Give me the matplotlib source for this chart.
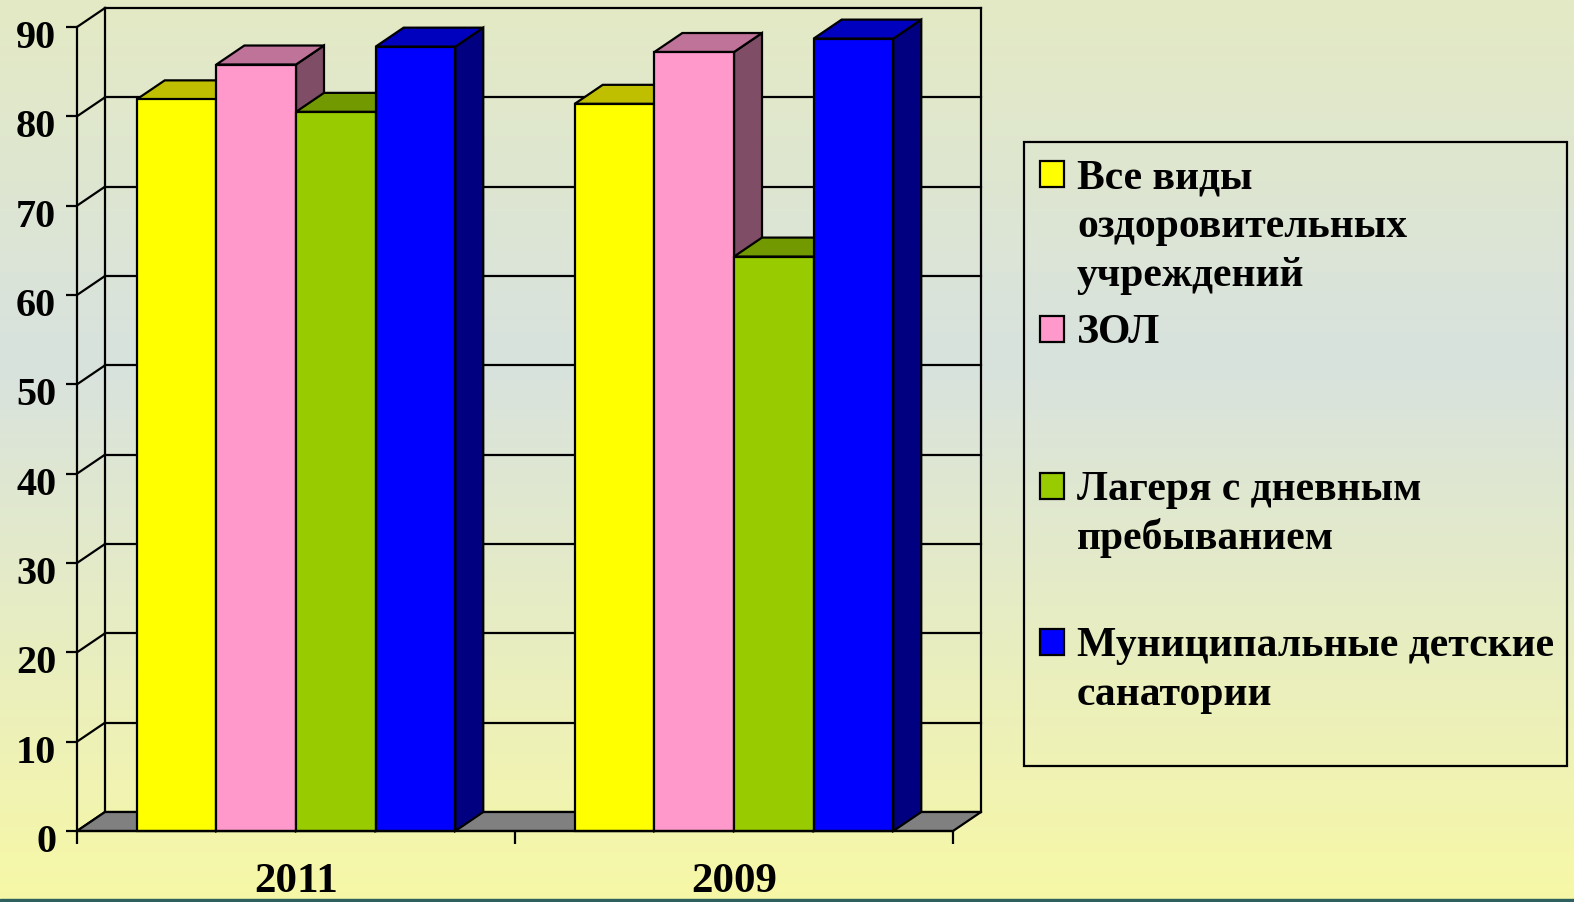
import numpy as np
import matplotlib.pyplot as plt
from matplotlib.patches import Polygon, Rectangle
from matplotlib.colors import to_rgb
from matplotlib.transforms import ScaledTranslation

plt.rcParams['font.family'] = ['Liberation Serif', 'DejaVu Serif']
plt.rcParams['font.weight'] = 'bold'

# data
years = ["2011", "2009"]
labels = ["Все виды\nоздоровительных\nучреждений", "ЗОЛ",
          "Лагеря с дневным\nпребыванием", "Муниципальные детские\nсанатории"]
colors = ["#FFFF00", "#FF99CC", "#99CC00", "#0000FF"]
vals_2011 = [81.9, 85.8, 80.5, 87.8]
vals_2009 = [81.4, 87.2, 64.3, 88.7]
yticks = list(range(0, 100, 10))

W, H = 1574, 902
fig = plt.figure(figsize=(W / 100, H / 100), dpi=100)

# background gradient
bg = fig.add_axes([0, 0, 1, 1])
t = np.linspace(0, 1, 400)
stops = [0.0, 0.4, 1.0]
cols = np.array([[228, 234, 196], [216, 226, 222], [247, 248, 166]]) / 255
grad = np.stack([np.interp(t, stops, cols[:, k]) for k in range(3)], axis=1)
bg.imshow(grad[:, None, :], aspect='auto', extent=[0, 1, 0, 1])
bg.axis('off')
fig.patches.append(Rectangle((0, 0), 1, 3 / H, transform=fig.transFigure,
                             color="#2E6060", zorder=5))

ax = fig.add_axes([77 / W, 1 - 831 / H, 876 / W, 804 / H])
ax.set_facecolor('none')
ax.set_xlim(0, 2)
ax.set_ylim(0, 90)

# depth of the 3d box, in data units
ddx = 28 / 438
ddy = 19 / (804 / 90)
lw = 1.6

# back wall + left wall gridlines
for v in yticks:
    ax.plot([ddx, 2 + ddx], [v + ddy, v + ddy], color='black', lw=lw, clip_on=False, zorder=1)
    ax.plot([0, ddx], [v, v + ddy], color='black', lw=lw, clip_on=False, zorder=1)
ax.plot([ddx, ddx], [ddy, 90 + ddy], color='black', lw=lw, clip_on=False, zorder=1)
ax.plot([2 + ddx, 2 + ddx], [ddy, 90 + ddy], color='black', lw=lw, clip_on=False, zorder=1)

# floor
ax.add_patch(Polygon([(0, 0), (2, 0), (2 + ddx, ddy), (ddx, ddy)], closed=True,
                     facecolor='#808080', edgecolor='black', lw=lw, clip_on=False, zorder=2))

w = 1 / 5.5
z = 3
for g, vals in enumerate([vals_2011, vals_2009]):
    for i, v in enumerate(vals):
        c = np.array(to_rgb(colors[i]))
        x0 = g + 0.75 * w + i * w
        side = [(x0 + w, 0), (x0 + w + ddx, ddy), (x0 + w + ddx, v + ddy), (x0 + w, v)]
        top = [(x0, v), (x0 + w, v), (x0 + w + ddx, v + ddy), (x0 + ddx, v + ddy)]
        ax.add_patch(Polygon(side, closed=True, facecolor=c * 0.5, edgecolor='black',
                             lw=lw, clip_on=False, zorder=z))
        ax.add_patch(Polygon(top, closed=True, facecolor=c * 0.75, edgecolor='black',
                             lw=lw, clip_on=False, zorder=z + 1))
        ax.add_patch(Rectangle((x0, 0), w, v, facecolor=c, edgecolor='black',
                               lw=lw, clip_on=False, zorder=z + 2))
        z += 3

for s in ['top', 'right']:
    ax.spines[s].set_visible(False)
for s in ['left', 'bottom']:
    ax.spines[s].set_linewidth(lw)
    ax.spines[s].set_zorder(z + 1)

ax.set_yticks(yticks)
ax.tick_params(axis='y', direction='out', length=8, width=lw, labelsize=29, pad=7)
for lab in ax.get_yticklabels():
    lab.set_transform(lab.get_transform() + ScaledTranslation(0, -0.07, fig.dpi_scale_trans))

ax.set_xticks([0, 1, 2])
ax.set_xticklabels([])
ax.set_xticks([0.5, 1.5], minor=True)
ax.set_xticklabels(years, minor=True)
ax.tick_params(axis='x', which='major', direction='out', length=9, width=lw)
ax.tick_params(axis='x', which='minor', length=0, labelsize=31, pad=23)


def fx(px):
    return px / W


def fy(py):
    return 1 - py / H


# legend drawn by hand
fig.patches.append(Rectangle((fx(1024), fy(766)), fx(1567 - 1024), (766 - 142) / H,
                             transform=fig.transFigure, facecolor='none',
                             edgecolor='black', lw=lw, zorder=5))
marker_top = [161, 316, 473, 629]
for lab, col, mt in zip(labels, colors, marker_top):
    fig.patches.append(Rectangle((fx(1040), fy(mt + 26)), fx(24), 26 / H,
                                 transform=fig.transFigure, facecolor=col,
                                 edgecolor='black', lw=lw, zorder=5))
    for k, line in enumerate(lab.split("\n")):
        fig.text(fx(1077), fy(mt + 27 + k * 49), line, fontsize=30, fontweight='bold',
                 va='baseline', ha='left')

fig.savefig("out.png", dpi=100)
